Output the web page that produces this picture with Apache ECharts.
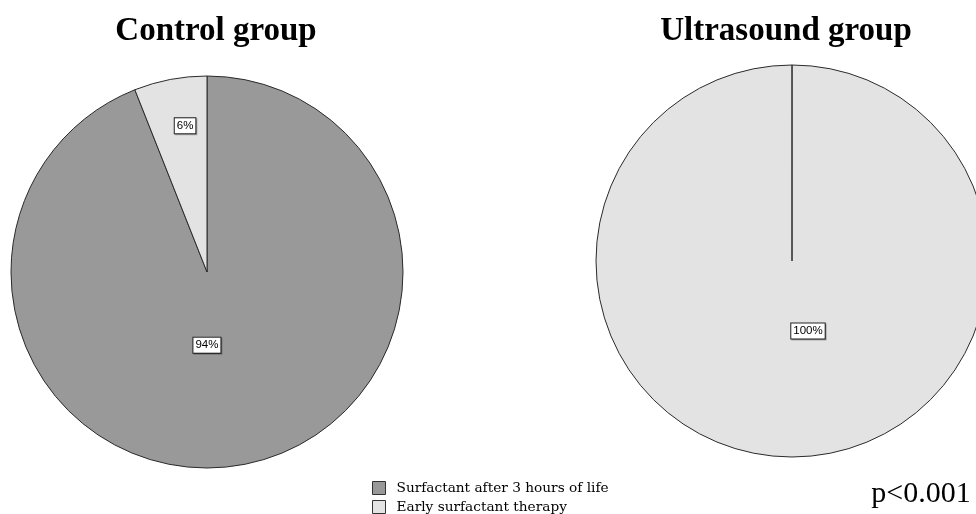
<!DOCTYPE html>
<html>
<head>
<meta charset="utf-8">
<script src="https://cdn.jsdelivr.net/npm/echarts@6/dist/echarts.min.js"></script>
<style>
  html, body { margin: 0; padding: 0; background: #fff; }
  #chart { width: 976px; height: 514px; }
</style>
</head>
<body>
<div id="chart"></div>
<script>
var categories = ['Surfactant after 3 hours of life', 'Early surfactant therapy'];
var groupTitles = ['Control group', 'Ultrasound group'];
var controlValues = [94, 6];
var ultrasoundValues = [0, 100];
var pValueText = 'p<0.001';

var sliceColors = ['#999999', '#e3e3e3'];

function buildData(values, offsets) {
    return values.map(function (v, i) {
        return {
            name: categories[i],
            value: v,
            itemStyle: { color: sliceColors[i] },
            label: { show: v > 0, offset: offsets[i] }
        };
    });
}

var labelStyle = {
    position: 'inside',
    formatter: '{d}%',
    color: '#000',
    fontFamily: 'Liberation Sans',
    fontSize: 11.5,
    backgroundColor: '#fff',
    borderColor: '#222',
    borderWidth: 1,
    padding: [2, 2, 1, 2],
    shadowColor: 'rgba(0,0,0,0.25)',
    shadowOffsetX: 1,
    shadowOffsetY: 1,
    shadowBlur: 0
};

function legendFor(i, top) {
    return {
        data: [categories[i]],
        left: 372,
        top: top,
        padding: 0,
        icon: 'rect',
        itemWidth: 13,
        itemHeight: 13,
        selectedMode: false,
        itemStyle: { borderColor: '#333', borderWidth: 1 },
        textStyle: { fontFamily: 'DejaVu Serif', fontSize: 13.7, color: '#000', padding: [0, 0, 0, 6] }
    };
}

var chart = echarts.init(document.getElementById('chart'));
chart.setOption({
    animation: false,
    title: [
        {
            text: groupTitles[0], left: 211, top: 10, textAlign: 'center',
            textStyle: { fontFamily: 'Liberation Serif', fontWeight: 'bold', fontSize: 33, color: '#000' }
        },
        {
            text: groupTitles[1], left: 781, top: 10, textAlign: 'center',
            textStyle: { fontFamily: 'Liberation Serif', fontWeight: 'bold', fontSize: 33, color: '#000' }
        },
        {
            text: pValueText, left: 916, top: 474, textAlign: 'center',
            textStyle: { fontFamily: 'Liberation Serif', fontWeight: 'normal', fontSize: 30, color: '#000' }
        }
    ],
    legend: [legendFor(0, 481), legendFor(1, 500)],
    series: [
        {
            type: 'pie',
            name: groupTitles[0],
            center: [207, 272],
            radius: 196,
            startAngle: 90,
            clockwise: true,
            minAngle: 0,
            itemStyle: { borderColor: '#2a2a2a', borderWidth: 1 },
            label: labelStyle,
            labelLine: { show: false },
            emphasis: { disabled: true },
            data: buildData(controlValues, [[-19, -26], [-3, -47]])
        },
        {
            type: 'pie',
            name: groupTitles[1],
            center: [792, 261],
            radius: 196,
            startAngle: 90,
            clockwise: true,
            minAngle: 0.01,
            itemStyle: { borderColor: '#2a2a2a', borderWidth: 1 },
            label: labelStyle,
            labelLine: { show: false },
            emphasis: { disabled: true },
            data: buildData(ultrasoundValues, [[0, 0], [16, -31]])
        }
    ]
});
</script>
</body>
</html>
